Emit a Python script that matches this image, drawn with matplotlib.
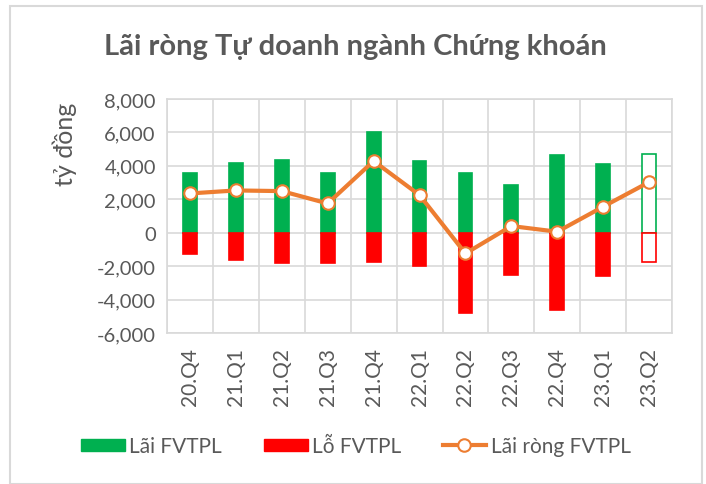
import matplotlib.pyplot as plt
import numpy as np
from matplotlib.patches import Rectangle

plt.rcParams['font.family'] = ['Lato', 'DejaVu Sans']

quarters = ['20.Q4', '21.Q1', '21.Q2', '21.Q3', '21.Q4', '22.Q1',
            '22.Q2', '22.Q3', '22.Q4', '23.Q1', '23.Q2']
gain = [3600, 4150, 4330, 3550, 6000, 4290, 3550, 2870, 4650, 4090, 4730]
loss = [-1260, -1640, -1840, -1820, -1740, -2020, -4830, -2500, -4610, -2570, -1740]
net = [2350, 2530, 2490, 1750, 4290, 2250, -1240, 400, 60, 1560, 3030]

green = '#00b050'
red = '#ff0000'
orange = '#ed7d31'
grey = '#595959'
grid = '#d9d9d9'

fig = plt.figure(figsize=(7.06, 4.85), dpi=100)
fig.patches.append(Rectangle((10 / 706, 0), 692 / 706, 1 - 7 / 485, transform=fig.transFigure,
                             fill=False, edgecolor=grid, linewidth=1.5))
ax = fig.add_axes([0.2365, 0.3113, 0.7155, 0.4825])

x = np.arange(len(quarters))
w = 0.3
# last quarter is an estimate -> hollow bars
face_g = [green] * (len(x) - 1) + ['white']
face_r = [red] * (len(x) - 1) + ['white']
b1 = ax.bar(x, gain, width=w, color=face_g, edgecolor=green, linewidth=1.2, zorder=2)
b2 = ax.bar(x, loss, width=w, color=face_r, edgecolor=red, linewidth=1.2, zorder=2)
ln, = ax.plot(x, net, color=orange, linewidth=3, marker='o', markersize=9,
              markerfacecolor='white', markeredgecolor=orange, markeredgewidth=1.5,
              zorder=3)

ax.set_xlim(-0.5, len(x) - 0.5)
ax.set_ylim(-6000, 8000)
ax.set_yticks(range(-6000, 8001, 2000))
ax.set_yticklabels([f'{v:,}' for v in range(-6000, 8001, 2000)])
ax.set_xticks(x)
ax.set_xticklabels(quarters, rotation=90)
ax.set_xticks(np.arange(-0.5, len(x), 1), minor=True)
ax.grid(True, which='minor', axis='x', color=grid, linewidth=1.2, zorder=0)
ax.grid(True, which='major', axis='y', color=grid, linewidth=1.2, zorder=0)
ax.set_axisbelow(True)
ax.tick_params(which='both', length=0)
ax.tick_params(axis='y', labelsize=14.5, labelcolor=grey, pad=8)
ax.tick_params(axis='x', labelsize=15, labelcolor=grey, pad=10)
for s in ax.spines.values():
    s.set_color(grid)
    s.set_linewidth(1.2)

fig.text(65 / 706, 1 - 144 / 485, 'tỷ đồng', rotation=90, ha='center', va='center',
         fontsize=18, color=grey)

fig.text(0.503, 1 - 47 / 485, 'Lãi ròng Tự doanh ngành Chứng khoán', ha='center', va='center',
         fontsize=21, fontweight='bold', color=grey)

h1 = Rectangle((0, 0), 1, 1, color=green)
h2 = Rectangle((0, 0), 1, 1, color=red)
fig.legend([h1, h2, ln], ['Lãi FVTPL', 'Lỗ FVTPL', 'Lãi ròng FVTPL'],
           loc='center', bbox_to_anchor=(356 / 706, 1 - 447 / 485), ncol=3, frameon=False,
           fontsize=15, labelcolor=grey, handlelength=2.1, handleheight=0.5,
           handletextpad=0.2, columnspacing=2.0)

fig.savefig('out.png', dpi=100)
